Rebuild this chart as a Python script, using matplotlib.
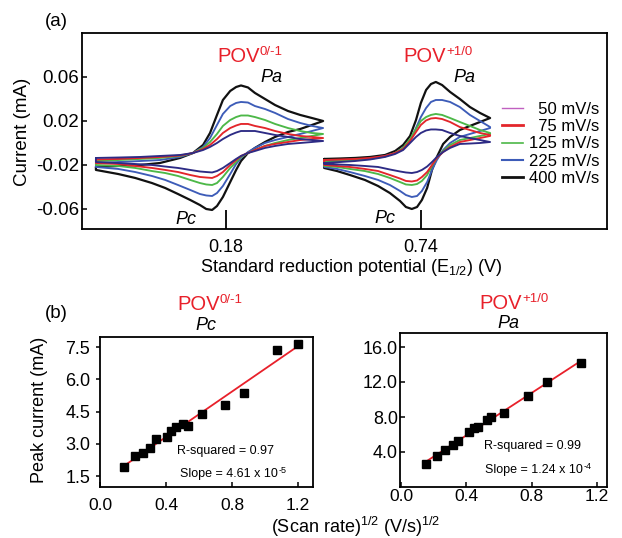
import numpy as np
import matplotlib
matplotlib.use('Agg')
import matplotlib.pyplot as plt
from matplotlib.lines import Line2D

plt.rcParams['font.family'] = ['Liberation Sans', 'DejaVu Sans']
plt.rcParams['mathtext.fontset'] = 'custom'
plt.rcParams['mathtext.rm'] = 'Liberation Sans'
plt.rcParams['mathtext.it'] = 'Liberation Sans:italic'
plt.rcParams['mathtext.bf'] = 'Liberation Sans:bold'
plt.rcParams['axes.unicode_minus'] = False

# ---------------- data: panel (a) cyclic voltammograms ----------------
rate_labels = ['\u200750 mV/s', '\u200775 mV/s', '125 mV/s', '225 mV/s', '400 mV/s']

# first couple (POV 0/-1), anodic sweep (left -> right)
cv1_fwd_v = [-0.194, -0.130, -0.067, -0.010, 0.048, 0.085, 0.114, 0.134, 0.154, 0.171,
             0.192, 0.209, 0.223, 0.243, 0.263, 0.292, 0.321, 0.358, 0.393, 0.427, 0.459]
cv1_fwd_50 = [-0.0136, -0.0132, -0.0127, -0.0118, -0.0109, -0.0091, -0.0064, -0.0036, 0.0000, 0.0036,
              0.0073, 0.0095, 0.0109, 0.0109, 0.0109, 0.0091, 0.0073, 0.0055, 0.0036, 0.0027, 0.0018]
cv1_fwd_75 = [-0.0150, -0.0145, -0.0136, -0.0127, -0.0114, -0.0091, -0.0055, -0.0018, 0.0036, 0.0091,
              0.0136, 0.0159, 0.0173, 0.0173, 0.0155, 0.0136, 0.0109, 0.0082, 0.0064, 0.0055, 0.0045]
cv1_fwd_125 = [-0.0164, -0.0155, -0.0145, -0.0136, -0.0118, -0.0091, -0.0045, 0.0009, 0.0082, 0.0155,
               0.0209, 0.0236, 0.0250, 0.0250, 0.0236, 0.0209, 0.0173, 0.0136, 0.0109, 0.0091, 0.0082]
cv1_fwd_225 = [-0.0182, -0.0173, -0.0164, -0.0155, -0.0127, -0.0091, -0.0036, 0.0045, 0.0164, 0.0264,
               0.0336, 0.0364, 0.0373, 0.0368, 0.0336, 0.0309, 0.0273, 0.0218, 0.0182, 0.0155, 0.0136]
cv1_fwd_400 = [-0.0218, -0.0209, -0.0200, -0.0182, -0.0136, -0.0091, -0.0018, 0.0091, 0.0255, 0.0391,
               0.0473, 0.0509, 0.0523, 0.0505, 0.0455, 0.0400, 0.0345, 0.0291, 0.0255, 0.0227, 0.0200]
# cathodic sweep (right -> left)
cv1_rev_v = [0.459, 0.427, 0.393, 0.358, 0.321, 0.292, 0.263, 0.243, 0.223, 0.209, 0.192, 0.171,
             0.154, 0.140, 0.123, 0.105, 0.077, 0.042, 0.005, -0.033, -0.081, -0.130, -0.194]
cv1_rev_50 = [0.0018, 0.0009, 0.0000, -0.0009, -0.0027, -0.0045, -0.0073, -0.0091, -0.0118, -0.0145, -0.0182,
              -0.0227, -0.0255, -0.0268, -0.0264, -0.0259, -0.0245, -0.0227, -0.0214, -0.0200, -0.0191, -0.0182, -0.0173]
cv1_rev_75 = [0.0045, 0.0036, 0.0027, 0.0009, -0.0009, -0.0027, -0.0064, -0.0091, -0.0118, -0.0155, -0.0200,
              -0.0264, -0.0300, -0.0318, -0.0314, -0.0309, -0.0291, -0.0264, -0.0245, -0.0227, -0.0209, -0.0191, -0.0182]
cv1_rev_125 = [0.0082, 0.0064, 0.0045, 0.0027, 0.0000, -0.0027, -0.0064, -0.0091, -0.0127, -0.0173, -0.0227,
               -0.0309, -0.0364, -0.0382, -0.0377, -0.0364, -0.0336, -0.0300, -0.0273, -0.0255, -0.0227, -0.0209, -0.0200]
cv1_rev_225 = [0.0136, 0.0109, 0.0082, 0.0055, 0.0027, 0.0000, -0.0045, -0.0082, -0.0136, -0.0191, -0.0282,
               -0.0391, -0.0455, -0.0482, -0.0477, -0.0464, -0.0427, -0.0382, -0.0336, -0.0300, -0.0264, -0.0236, -0.0218]
cv1_rev_400 = [0.0200, 0.0164, 0.0127, 0.0100, 0.0055, 0.0009, -0.0045, -0.0091, -0.0164, -0.0245, -0.0355,
               -0.0491, -0.0573, -0.0609, -0.0600, -0.0564, -0.0518, -0.0464, -0.0409, -0.0364, -0.0318, -0.0282, -0.0245]

# second couple (POV +1/0)
cv2_fwd_v = [0.462, 0.508, 0.551, 0.594, 0.637, 0.666, 0.689, 0.709, 0.726, 0.740,
             0.755, 0.769, 0.783, 0.801, 0.824, 0.852, 0.881, 0.910, 0.939]
cv2_fwd_50 = [-0.0182, -0.0173, -0.0164, -0.0150, -0.0127, -0.0100, -0.0064, 0.0000, 0.0055, 0.0091,
              0.0114, 0.0123, 0.0123, 0.0118, 0.0091, 0.0064, 0.0045, 0.0027, 0.0009]
cv2_fwd_75 = [-0.0155, -0.0150, -0.0145, -0.0136, -0.0118, -0.0091, -0.0055, 0.0018, 0.0100, 0.0164,
              0.0205, 0.0223, 0.0227, 0.0218, 0.0191, 0.0145, 0.0118, 0.0091, 0.0073]
cv2_fwd_125 = [-0.0173, -0.0164, -0.0155, -0.0145, -0.0123, -0.0091, -0.0045, 0.0036, 0.0127, 0.0200,
               0.0236, 0.0255, 0.0264, 0.0255, 0.0227, 0.0191, 0.0155, 0.0118, 0.0091]
cv2_fwd_225 = [-0.0164, -0.0155, -0.0150, -0.0141, -0.0118, -0.0091, -0.0045, 0.0018, 0.0136, 0.0236,
               0.0318, 0.0373, 0.0391, 0.0391, 0.0373, 0.0327, 0.0255, 0.0200, 0.0145]
cv2_fwd_400 = [-0.0145, -0.0141, -0.0136, -0.0127, -0.0109, -0.0073, -0.0018, 0.0064, 0.0209, 0.0364,
               0.0482, 0.0536, 0.0555, 0.0527, 0.0464, 0.0400, 0.0327, 0.0273, 0.0227]
cv2_rev_v = [0.939, 0.910, 0.881, 0.852, 0.824, 0.804, 0.786, 0.772, 0.758, 0.743,
             0.729, 0.714, 0.697, 0.680, 0.651, 0.617, 0.579, 0.536, 0.499, 0.462]
cv2_rev_50 = [0.0009, 0.0000, -0.0005, -0.0009, -0.0045, -0.0082, -0.0127, -0.0173, -0.0214, -0.0245,
              -0.0264, -0.0273, -0.0268, -0.0259, -0.0241, -0.0218, -0.0209, -0.0200, -0.0195, -0.0191]
cv2_rev_75 = [0.0064, 0.0045, 0.0027, 0.0009, -0.0036, -0.0082, -0.0136, -0.0200, -0.0264, -0.0309,
              -0.0341, -0.0350, -0.0345, -0.0323, -0.0291, -0.0255, -0.0236, -0.0218, -0.0209, -0.0200]
cv2_rev_125 = [0.0082, 0.0064, 0.0045, 0.0027, -0.0018, -0.0073, -0.0136, -0.0209, -0.0291, -0.0345,
               -0.0373, -0.0382, -0.0377, -0.0355, -0.0318, -0.0282, -0.0255, -0.0236, -0.0218, -0.0209]
cv2_rev_225 = [0.0136, 0.0109, 0.0082, 0.0055, 0.0000, -0.0064, -0.0155, -0.0245, -0.0355, -0.0436,
               -0.0482, -0.0491, -0.0473, -0.0436, -0.0382, -0.0336, -0.0300, -0.0264, -0.0236, -0.0218]
cv2_rev_400 = [0.0227, 0.0191, 0.0155, 0.0118, 0.0055, -0.0009, -0.0127, -0.0245, -0.0409, -0.0518,
               -0.0582, -0.0600, -0.0582, -0.0527, -0.0455, -0.0391, -0.0336, -0.0291, -0.0255, -0.0227]

e_half_ticks = [0.18, 0.74]
e_half_labels = ['0.18', '0.74']
current_ticks = [0.06, 0.02, -0.02, -0.06]
current_labels = ['0.06', '0.02', '-0.02', '-0.06']

# ---------------- data: panel (b) peak current vs sqrt(scan rate) ----------------
pc_x = [0.147, 0.212, 0.262, 0.303, 0.339, 0.404, 0.430, 0.459, 0.505, 0.532, 0.616, 0.758, 0.873, 1.071, 1.198]
pc_y = [1.91, 2.43, 2.58, 2.79, 3.22, 3.33, 3.61, 3.79, 3.92, 3.83, 4.38, 4.80, 5.37, 7.35, 7.63]
pa_x = [0.153, 0.219, 0.269, 0.317, 0.351, 0.418, 0.447, 0.473, 0.525, 0.549, 0.633, 0.780, 0.896, 1.100]
pa_y = [2.63, 3.54, 4.23, 4.80, 5.29, 6.32, 6.71, 6.89, 7.66, 7.97, 8.49, 10.40, 12.03, 14.14]
pc_yticks = [1.5, 3.0, 4.5, 6.0, 7.5]
pa_yticks = [4.0, 8.0, 12.0, 16.0]
sr_xticks = [0.0, 0.4, 0.8, 1.2]

# ---------------- styles ----------------
C_NAVY = '#2d2b85'
C_RED = '#e3262b'
C_GREEN = '#4db848'
C_BLUE = '#3d5cb8'
C_BLACK = '#111111'
C_TITLE = '#e8202a'

W, H = 622, 538
fig = plt.figure(figsize=(W / 100, H / 100), dpi=100)
renderer = fig.canvas.get_renderer()


def fx(px):
    return px / W


def fy(py):
    return 1 - py / H


def sup_text(x_px, y_px, base, sup, size, sup_size, rise, color='black'):
    """Text with a plain-text superscript (keeps the hyphen as a hyphen)."""
    t = fig.text(fx(x_px), fy(y_px), base, fontsize=size, color=color, va='baseline')
    bb = t.get_window_extent(renderer)
    fig.text(bb.x1 / W + 0.5 / W, fy(y_px - rise), sup, fontsize=sup_size, color=color, va='baseline')


# ================= panel (a) =================
axA = fig.add_axes([fx(82), fy(229), fx(607) - fx(82), fy(33) - fy(229)])

cv_sets = [
    (cv1_fwd_v, cv1_rev_v,
     [cv1_fwd_400, cv1_fwd_225, cv1_fwd_125, cv1_fwd_75, cv1_fwd_50],
     [cv1_rev_400, cv1_rev_225, cv1_rev_125, cv1_rev_75, cv1_rev_50]),
    (cv2_fwd_v, cv2_rev_v,
     [cv2_fwd_400, cv2_fwd_225, cv2_fwd_125, cv2_fwd_75, cv2_fwd_50],
     [cv2_rev_400, cv2_rev_225, cv2_rev_125, cv2_rev_75, cv2_rev_50]),
]
curve_colors = [C_BLACK, C_BLUE, C_GREEN, C_RED, C_NAVY]
curve_lw = [1.6, 1.35, 1.35, 1.35, 1.35]

for fwd_v, rev_v, fwd_list, rev_list in cv_sets:
    for fwd_i, rev_i, col, lw in zip(fwd_list, rev_list, curve_colors, curve_lw):
        v = list(fwd_v) + list(rev_v) + [fwd_v[0]]
        i = list(fwd_i) + list(rev_i) + [fwd_i[0]]
        axA.plot(v, i, color=col, lw=lw, solid_joinstyle='round', solid_capstyle='round')

axA.set_xlim(-0.234, 1.275)
axA.set_ylim(-0.0782, 0.100)
axA.set_xticks(e_half_ticks)
axA.set_xticklabels(e_half_labels)
axA.set_yticks(current_ticks)
axA.set_yticklabels(current_labels)
axA.tick_params(axis='x', direction='in', length=14, width=1.3, pad=7, labelsize=13)
axA.tick_params(axis='y', direction='in', length=3.5, width=1.1, pad=2, labelsize=13.5)
for s in axA.spines.values():
    s.set_linewidth(1.3)

axA.set_ylabel('Current (mA)', fontsize=13.5)
axA.yaxis.label.set_va('center')
axA.yaxis.set_label_coords((23 - 82) / 525, 0.495)
axA.set_xlabel(r'Standard reduction potential (E$_{\mathregular{1/2}}$) (V)', fontsize=13)
axA.xaxis.label.set_va('center')
axA.xaxis.set_label_coords((351 - 82) / 525, (229 - 268) / 196)

leg_handles = [
    Line2D([], [], color='#c060c0', lw=1.0),
    Line2D([], [], color=C_RED, lw=2.0),
    Line2D([], [], color=C_GREEN, lw=1.2),
    Line2D([], [], color=C_BLUE, lw=1.5),
    Line2D([], [], color=C_BLACK, lw=2.0),
]
axA.legend(leg_handles, rate_labels, loc='upper left', bbox_to_anchor=(fx(502), fy(102)),
           bbox_transform=fig.transFigure, frameon=False, borderpad=0, borderaxespad=0,
           handlelength=1.25, handletextpad=0.35, labelspacing=0.13, fontsize=12)

fig.text(fx(45), fy(26), '(a)', fontsize=13.5, va='baseline')
sup_text(217, 62, 'POV', '0/-1', 14.5, 9.5, 7, C_TITLE)
sup_text(403, 62, 'POV', '+1/0', 14.5, 9.5, 7, C_TITLE)
fig.text(fx(260), fy(82), 'Pa', fontstyle='italic', fontsize=13, va='baseline')
fig.text(fx(453), fy(82), 'Pa', fontstyle='italic', fontsize=13, va='baseline')
fig.text(fx(175), fy(224), 'Pc', fontstyle='italic', fontsize=13, va='baseline')
fig.text(fx(374), fy(223), 'Pc', fontstyle='italic', fontsize=13, va='baseline')

# ================= panel (b) =================
axB = fig.add_axes([fx(100), fy(487), fx(313) - fx(100), fy(337) - fy(487)])
axC = fig.add_axes([fx(400), fy(487), fx(607) - fx(400), fy(333) - fy(487)])

for ax, xs, ys in [(axB, pc_x, pc_y), (axC, pa_x, pa_y)]:
    xs = np.asarray(xs)
    ys = np.asarray(ys)
    k, b = np.polyfit(xs, ys, 1)
    xl = np.array([xs.min(), xs.max()])
    ax.plot(xl, k * xl + b, color=C_TITLE, lw=1.3, zorder=2)
    ax.plot(xs, ys, 's', color='black', ms=5.2, zorder=3)
    for s in ax.spines.values():
        s.set_linewidth(1.3)
    ax.set_xticks(sr_xticks)
    ax.set_xticklabels(['%.1f' % t for t in sr_xticks])

axB.set_xlim(0.0, 1.29)
axB.set_ylim(0.99, 7.97)
axB.set_yticks(pc_yticks)
axB.set_yticklabels(['%.1f' % t for t in pc_yticks])
axB.tick_params(axis='y', direction='out', length=3, width=1.1, pad=4, labelsize=13)
axB.tick_params(axis='x', direction='in', length=3.5, width=1.1, pad=8, labelsize=12.5)
axB.set_ylabel('Peak current (mA)', fontsize=13)
axB.yaxis.label.set_va('center')
axB.yaxis.set_label_coords((40 - 100) / 213, (487 - 410) / 150)

axC.set_xlim(-0.006, 1.262)
axC.set_ylim(0.0, 17.6)
axC.set_yticks(pa_yticks)
axC.set_yticklabels(['%.1f' % t for t in pa_yticks])
axC.tick_params(axis='y', direction='in', length=3.5, width=1.1, pad=1.5, labelsize=13)
axC.tick_params(axis='x', direction='in', length=3.5, width=1.1, pad=1.5, labelsize=12.5)

fig.text(fx(45), fy(318), '(b)', fontsize=13.5, va='baseline')
sup_text(177, 310, 'POV', '0/-1', 14.5, 9.5, 7, C_TITLE)
fig.text(fx(195), fy(330), 'Pc', fontstyle='italic', fontsize=13, va='baseline')
sup_text(479, 309, 'POV', '+1/0', 14.5, 9.5, 7, C_TITLE)
fig.text(fx(497), fy(328), 'Pa', fontstyle='italic', fontsize=13, va='baseline')

fig.text(fx(177), fy(454), 'R-squared = 0.97', fontsize=9, va='baseline')
sup_text(180, 477, 'Slope = 4.61 x 10', '-5', 9, 6.5, 4)
fig.text(fx(484), fy(449), 'R-squared = 0.99', fontsize=9, va='baseline')
sup_text(485, 473, 'Slope = 1.24 x 10', '-4', 9, 6.5, 4)

fig.text(fx(356), fy(527), r'(Scan rate)$^{\mathregular{1/2}}$ (V/s)$^{\mathregular{1/2}}$',
         fontsize=13, ha='center', va='center')

fig.savefig('out.png', dpi=100)
